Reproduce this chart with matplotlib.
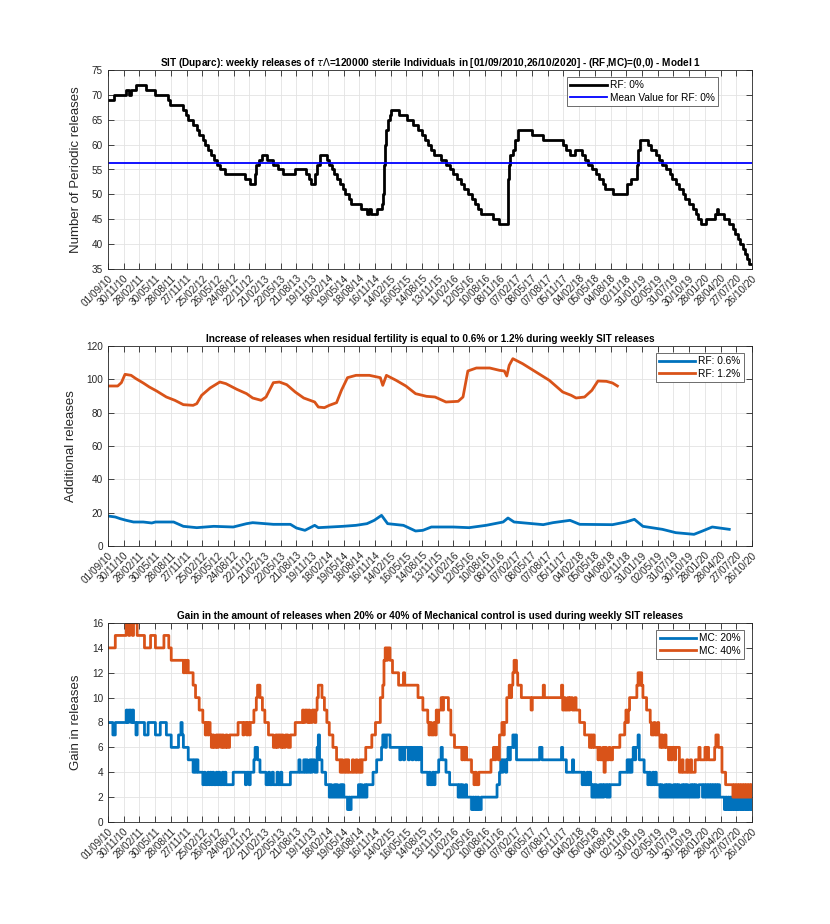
import numpy as np
import matplotlib
matplotlib.use('Agg')
import matplotlib.pyplot as plt
from datetime import datetime, timedelta

plt.rcParams['font.family'] = ['Liberation Sans', 'DejaVu Sans']

start = datetime(2010, 9, 1)
end = datetime(2020, 10, 26)
n_weeks = 530

tick_labels = ['01/09/10', '30/11/10', '28/02/11', '30/05/11', '28/08/11', '27/11/11',
               '25/02/12', '26/05/12', '24/08/12', '22/11/12', '21/02/13', '22/05/13',
               '21/08/13', '19/11/13', '18/02/14', '19/05/14', '18/08/14', '16/11/14',
               '14/02/15', '16/05/15', '14/08/15', '13/11/15', '11/02/16', '12/05/16',
               '10/08/16', '08/11/16', '07/02/17', '08/05/17', '07/08/17', '05/11/17',
               '04/02/18', '05/05/18', '04/08/18', '02/11/18', '31/01/19', '02/05/19',
               '31/07/19', '30/10/19', '28/01/20', '28/04/20', '27/07/20', '26/10/20']

# RF 0% : (start week, number of periodic releases)
rf0_steps = [(0, 69), (5, 70), (15, 71), (17, 70), (19, 71), (23, 72), (31, 71), (39, 70),
             (49, 69), (51, 68), (62, 67), (64, 66), (66, 65), (70, 64), (73, 63), (75, 62),
             (78, 61), (80, 60), (82, 59), (85, 58), (87, 57), (90, 56), (92, 55), (96, 54),
             (113, 53), (117, 52), (121, 54), (122, 56), (124, 57), (127, 58), (131, 57),
             (136, 56), (140, 55), (144, 54), (154, 55), (163, 54), (165, 53), (167, 52),
             (170, 54), (172, 56), (174, 58), (180, 57), (182, 56), (184, 55), (186, 54),
             (188, 53), (191, 52), (193, 51), (195, 50), (198, 49), (200, 48), (208, 47),
             (213, 46), (215, 47), (216, 46), (221, 47), (225, 48), (226, 50), (227, 56),
             (228, 60), (229, 63), (230, 65), (232, 66), (233, 67), (239, 66), (246, 65),
             (251, 64), (255, 63), (258, 62), (261, 61), (263, 60), (266, 59), (268, 58),
             (274, 57), (278, 56), (281, 55), (284, 54), (287, 53), (290, 52), (293, 51),
             (296, 50), (299, 49), (302, 48), (304, 47), (307, 46), (317, 45), (322, 44),
             (329, 53), (330, 56), (331, 58), (333, 59), (335, 61), (337, 63), (349, 62),
             (358, 61), (374, 60), (377, 59), (380, 58), (384, 59), (390, 58), (392, 57),
             (395, 56), (398, 55), (401, 54), (404, 53), (407, 52), (409, 51), (415, 50),
             (427, 52), (430, 53), (435, 56), (436, 59), (438, 61), (444, 60), (447, 59),
             (451, 58), (453, 57), (456, 56), (459, 55), (462, 54), (464, 53), (467, 52),
             (470, 51), (473, 50), (475, 49), (478, 48), (481, 47), (484, 46), (485, 45),
             (488, 44), (492, 45), (499, 46), (501, 47), (502, 46), (507, 45), (511, 44),
             (514, 43), (516, 42), (518, 41), (520, 40), (522, 39), (524, 38), (526, 37),
             (527, 36)]
rf0_mean = 56.3

# additional releases: (week, value)
rf06_pts = [(0, 18), (6, 17.4), (10, 16.4), (15, 15.4), (21, 14.4), (29, 14.4), (36, 13.8),
            (39, 14.4), (54, 14.4), (62, 11.8), (73, 11), (87, 11.8), (103, 11.4), (114, 13.4),
            (119, 14), (136, 13), (150, 13), (155, 10.8), (162, 9.4), (170, 12.4), (173, 11),
            (193, 11.8), (204, 12.4), (213, 13.4), (219, 15.4), (225, 18.4), (230, 13.4),
            (243, 12.4), (253, 9), (259, 9.4), (266, 11.4), (284, 11.4), (297, 11), (311, 12.4),
            (325, 14.4), (329, 16.8), (334, 14.4), (358, 12.8), (366, 14), (380, 15.4),
            (388, 13), (415, 12.8), (426, 14.4), (433, 16), (440, 11.8), (456, 10), (467, 8),
            (482, 7), (489, 9), (497, 11.4), (511, 10)]
rf12_pts = [(0, 96), (4, 96), (8, 96), (11, 98), (14, 103), (19, 102.4), (23, 100.4), (29, 97.8),
            (34, 95.4), (40, 93), (48, 89.4), (55, 87.4), (62, 84.8), (70, 84.4), (73, 85.4),
            (77, 90.4), (84, 94.8), (92, 98.4), (97, 97.4), (106, 94), (114, 91.4), (119, 88.8),
            (126, 87.4), (130, 89.4), (136, 98), (141, 98.4), (147, 96.8), (154, 92.4),
            (161, 88.8), (170, 86.4), (173, 83.4), (178, 83), (182, 84.4), (188, 86), (192, 93.4),
            (197, 101), (204, 102.4), (215, 102.4), (224, 101), (226, 96.4), (229, 102.4),
            (237, 99.4), (245, 96), (253, 91.4), (262, 89.8), (269, 89.4), (278, 86.4),
            (288, 86.8), (292, 89.4), (296, 105), (303, 106.8), (314, 106.8), (322, 105.4),
            (326, 105), (328, 102), (330, 108.4), (333, 112.4), (341, 109.4), (352, 104.4),
            (363, 99.4), (374, 92.4), (381, 90.4), (385, 88.8), (392, 89.4), (398, 93.4),
            (403, 99), (410, 98.8), (415, 97.8), (419, 96)]

# gain in releases: (value, number of weeks)
mc20_runs = [(8, 4), (7, 2), (8, 9), (9, 1), (8, 1), (9, 2), (8, 1), (9, 1), (8, 2), (7, 1),
             (8, 6), (7, 3), (8, 6), (7, 4), (8, 5), (7, 4), (6, 6), (7, 2), (8, 1), (7, 1),
             (6, 4), (5, 4), (4, 1), (5, 1), (4, 1), (5, 1), (4, 4),
             (3, 1), (4, 1), (3, 2), (4, 1), (3, 1), (4, 1), (3, 1), (4, 1), (3, 2), (4, 1),
             (3, 1), (4, 1), (3, 2), (4, 1), (3, 1), (4, 1), (3, 6), (4, 10),
             (3, 1), (4, 2), (3, 1), (4, 3), (5, 1), (6, 2), (5, 2), (4, 5),
             (3, 2), (4, 1), (3, 2), (4, 1), (3, 3), (4, 1), (3, 2), (4, 1), (3, 7), (4, 7),
             (5, 1), (4, 3), (5, 1), (4, 1), (5, 1), (4, 2), (5, 1), (4, 1), (5, 2), (4, 2),
             (6, 1), (7, 1), (5, 2), (4, 3), (3, 3),
             (2, 1), (3, 1), (2, 2), (3, 1), (2, 1), (3, 1), (2, 2), (3, 1), (2, 1), (3, 1),
             (2, 3), (1, 1), (2, 1), (1, 1), (2, 6),
             (3, 1), (2, 1), (3, 1), (2, 2), (3, 1), (2, 1), (3, 5), (4, 3), (5, 4), (6, 1),
             (7, 2), (6, 1), (7, 3), (6, 8), (5, 1), (6, 2), (5, 1), (6, 3), (5, 1), (6, 2),
             (5, 1), (6, 2), (5, 1), (6, 1), (5, 1), (6, 2), (4, 5),
             (3, 1), (4, 1), (3, 2), (4, 1), (3, 1), (4, 3), (5, 2), (6, 1), (5, 3), (4, 3),
             (3, 7), (2, 1), (3, 1), (2, 1), (3, 1), (2, 2), (3, 1), (2, 4),
             (1, 1), (2, 1), (1, 1), (2, 1), (1, 1), (2, 1), (1, 2), (2, 13), (3, 2),
             (4, 1), (5, 1), (4, 1), (5, 2), (4, 1), (5, 1), (6, 1), (5, 1), (6, 2),
             (7, 1), (6, 1), (7, 1), (5, 19), (6, 2), (5, 16), (6, 1), (5, 3),
             (4, 5), (5, 1), (4, 7), (3, 1), (4, 1), (3, 2), (4, 1), (3, 1), (4, 1), (3, 1),
             (2, 1), (3, 1), (2, 1), (3, 1), (2, 2), (3, 1), (2, 1), (3, 1), (2, 1), (3, 2),
             (2, 1), (3, 1), (2, 1), (3, 8), (4, 6), (5, 1), (4, 1), (5, 1), (4, 1), (5, 1),
             (6, 1), (5, 1), (6, 2), (7, 1), (5, 4), (4, 3),
             (3, 1), (4, 1), (3, 2), (4, 1), (3, 1), (4, 1), (3, 3),
             (2, 1), (3, 1), (2, 2), (3, 1), (2, 1), (3, 1), (2, 1), (3, 1), (2, 2), (3, 1),
             (2, 1), (3, 1), (2, 1), (3, 1), (2, 2), (3, 1), (2, 1), (3, 1), (2, 1), (3, 1),
             (2, 2), (3, 1), (2, 1), (3, 1), (2, 1), (3, 1), (2, 2), (3, 3),
             (2, 1), (3, 1), (2, 1), (3, 1), (2, 1), (3, 1), (2, 1), (3, 1), (2, 1), (3, 1),
             (2, 1), (3, 1), (2, 1), (3, 1), (2, 4),
             (1, 1), (2, 1), (1, 1), (2, 1), (1, 1), (2, 1), (1, 1), (2, 1), (1, 1), (2, 1),
             (1, 1), (2, 1), (1, 1), (2, 1), (1, 1), (2, 1), (1, 1), (2, 1), (1, 1), (2, 1),
             (1, 1), (2, 1), (1, 1)]
mc40_runs = [(14, 6), (15, 9), (16, 2), (15, 1), (16, 2), (15, 1), (16, 3), (15, 6), (14, 5),
             (15, 4), (14, 7), (15, 4), (14, 2), (13, 10), (12, 1), (13, 1), (12, 1), (13, 1),
             (12, 4), (11, 2), (10, 3), (9, 3), (8, 2), (7, 1), (8, 1), (7, 1), (8, 1), (7, 1),
             (6, 1), (7, 1), (6, 2), (7, 1), (6, 1), (7, 2), (6, 1), (7, 1), (6, 2), (7, 1),
             (6, 2), (7, 7), (8, 4), (7, 1), (8, 2), (7, 1), (8, 1), (7, 1), (8, 3), (9, 2),
             (10, 1), (11, 2), (10, 2), (9, 2), (8, 3), (7, 4),
             (6, 2), (7, 1), (6, 1), (7, 2), (6, 1), (7, 1), (6, 2), (7, 2), (6, 2), (7, 4),
             (8, 6), (9, 1), (8, 1), (9, 2), (8, 1), (9, 1), (8, 2), (9, 2), (8, 1), (9, 1),
             (10, 1), (11, 3), (10, 2), (9, 2), (8, 2), (7, 3), (6, 3), (5, 3),
             (4, 1), (5, 1), (4, 2), (5, 1), (4, 1), (5, 1), (4, 3), (5, 1), (4, 2), (5, 1),
             (4, 2), (5, 1), (4, 1), (5, 3), (6, 5), (7, 3), (8, 4), (10, 2), (11, 1), (13, 1),
             (14, 1), (13, 1), (14, 2), (13, 2), (12, 5), (11, 4), (12, 1), (11, 11),
             (10, 4), (9, 4), (8, 1), (7, 1), (8, 1), (7, 2), (8, 1), (7, 1), (9, 1), (8, 1),
             (9, 2), (10, 1), (9, 1), (10, 4), (9, 2), (7, 3), (6, 6), (5, 1), (6, 1), (5, 1),
             (6, 1), (5, 4), (4, 2), (3, 1), (4, 1), (3, 2), (4, 10), (5, 2), (6, 1), (5, 1),
             (6, 2), (5, 1), (7, 2), (8, 1), (7, 1), (8, 2), (10, 2), (11, 1), (10, 1), (11, 1),
             (12, 1), (13, 2), (12, 1), (11, 3), (10, 8), (9, 1), (10, 9), (11, 1),
             (10, 14), (11, 1), (9, 1), (10, 1), (9, 2), (10, 1), (9, 1), (10, 2), (9, 2),
             (10, 1), (9, 3), (8, 4), (7, 4), (6, 1), (7, 1), (6, 1), (7, 1), (6, 3),
             (5, 1), (6, 1), (5, 2), (6, 1), (4, 1), (6, 1), (5, 2), (6, 1), (5, 2), (6, 6),
             (7, 4), (8, 1), (9, 1), (8, 1), (9, 1), (10, 6), (11, 1), (12, 1), (11, 1),
             (12, 1), (11, 1), (10, 3), (9, 3), (8, 1), (7, 2), (8, 1), (7, 2), (8, 1),
             (7, 1), (6, 1), (7, 1), (6, 2), (7, 1), (6, 2), (5, 1), (6, 1), (5, 1), (6, 2),
             (5, 1), (6, 3), (4, 2), (5, 1), (4, 3), (5, 1), (4, 2), (5, 1), (4, 3),
             (5, 3), (6, 1), (5, 4), (6, 1), (5, 1), (6, 1), (5, 5), (6, 1), (7, 2), (6, 3),
             (4, 3), (3, 5), (3, 1), (2, 1), (3, 1), (2, 1), (3, 1), (2, 1), (3, 1), (2, 1),
             (3, 1), (2, 1), (3, 1), (2, 1), (3, 1), (2, 1), (3, 1), (2, 1), (3, 1)]

c_blue = '#0072BD'
c_orange = '#D95319'
ax_col = '#262626'


def wdate(w):
    return [start + timedelta(days=7 * float(x)) for x in w]


def run_steps(runs):
    vals = np.repeat([r[0] for r in runs], [r[1] for r in runs])
    vals = np.append(vals, vals[-1])
    return wdate(np.arange(len(vals))), vals


def style(ax, ylim, yticks):
    ax.set_xlim(start, end)
    ax.set_ylim(*ylim)
    ax.set_yticks(yticks)
    tpos = [datetime.strptime(t, '%d/%m/%y') for t in tick_labels]
    ax.set_xticks(tpos)
    ax.set_xticklabels(tick_labels, rotation=45, ha='right', va='top',
                       rotation_mode='anchor', fontsize=6.6)
    ax.tick_params(direction='in', top=True, right=True, length=4, width=0.6,
                   colors=ax_col, labelsize=7.2, labelcolor=ax_col)
    ax.tick_params(axis='x', pad=3)
    ax.grid(True, color='#e3e3e3', lw=0.6)
    ax.set_axisbelow(True)
    for s in ax.spines.values():
        s.set_color(ax_col)
        s.set_linewidth(0.6)


def add_legend(ax, anchor):
    leg = ax.legend(loc='upper right', bbox_to_anchor=anchor, fontsize=7.3, fancybox=False,
                    edgecolor='#555555', framealpha=1, handlelength=3.6, borderpad=0.3,
                    labelspacing=0.25, handletextpad=0.3)
    leg.get_frame().set_linewidth(0.6)


fig = plt.figure(figsize=(8.3, 9.24), dpi=100)
axw = 644 / 830
axl = 108 / 830
ax1 = fig.add_axes([axl, 1 - 269 / 924, axw, 199 / 924])
ax2 = fig.add_axes([axl, 1 - 546 / 924, axw, 200 / 924])
ax3 = fig.add_axes([axl, 1 - 822 / 924, axw, 199 / 924])

# top panel
wk = [s[0] for s in rf0_steps] + [n_weeks]
vv = [s[1] for s in rf0_steps] + [rf0_steps[-1][1]]
ax1.plot(wdate(wk), vv, drawstyle='steps-post', color='k', lw=2, label='RF: 0%')
ax1.axhline(rf0_mean, color=(0, 0, 1), lw=1.3, label='Mean Value for RF: 0%')
style(ax1, (35, 75), range(35, 76, 5))
ax1.set_ylabel('Number of Periodic releases', fontsize=9.5, color=ax_col, labelpad=7)
ax1.set_title(r'SIT (Duparc): weekly releases of $\tau\Lambda$=120000 sterile Individuals in '
              '[01/09/2010,26/10/2020] - (RF,MC)=(0,0) - Model 1',
              fontsize=7.2, fontweight='bold', pad=3)
add_legend(ax1, (0.955, 0.99))

# middle panel
ax2.plot(wdate([p[0] for p in rf06_pts]), [p[1] for p in rf06_pts], color=c_blue, lw=2,
         label='RF: 0.6%')
ax2.plot(wdate([p[0] for p in rf12_pts]), [p[1] for p in rf12_pts], color=c_orange, lw=2,
         label='RF: 1.2%')
style(ax2, (0, 120), range(0, 121, 20))
ax2.set_ylabel('Additional releases', fontsize=9.5, color=ax_col, labelpad=7)
ax2.set_title('Increase of releases when residual fertility is equal to 0.6% or 1.2% '
              'during weekly SIT releases', fontsize=7.2, fontweight='bold', pad=3)
add_legend(ax2, (0.995, 0.99))

# bottom panel
x20, y20 = run_steps(mc20_runs)
x40, y40 = run_steps(mc40_runs)
ax3.plot(x20, y20, drawstyle='steps-post', color=c_blue, lw=2, label='MC: 20%')
ax3.plot(x40, y40, drawstyle='steps-post', color=c_orange, lw=2, label='MC: 40%')
style(ax3, (0, 16), range(0, 17, 2))
ax3.set_ylabel('Gain in releases', fontsize=9.5, color=ax_col, labelpad=7)
ax3.set_title('Gain in the amount of releases when 20% or 40% of Mechanical control is '
              'used during weekly SIT releases', fontsize=7.2, fontweight='bold', pad=3)
add_legend(ax3, (0.995, 0.99))

fig.savefig('out.png', dpi=100)
